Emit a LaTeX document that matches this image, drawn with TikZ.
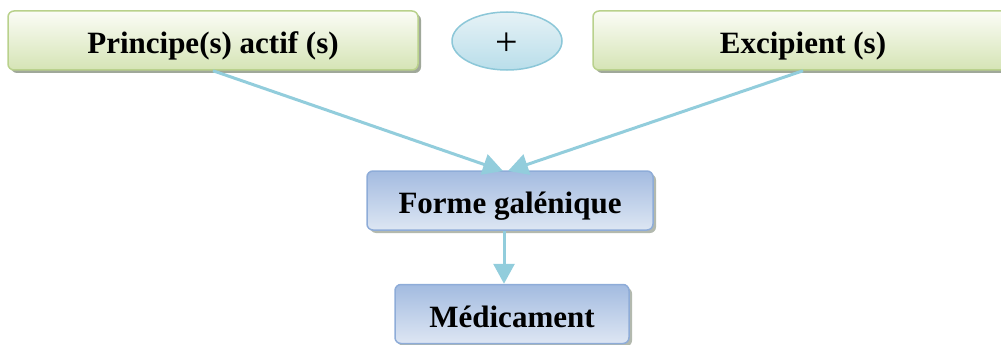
\documentclass[tikz,border=0pt]{standalone}
\usepackage{fontspec}
\setmainfont{Liberation Serif}
\usetikzlibrary{arrows.meta,shapes.geometric,shadows}
\definecolor{gtop}{HTML}{FBFCF6}
\definecolor{gbot}{HTML}{D5E4B5}
\definecolor{gbord}{HTML}{B9D18C}
\definecolor{btop}{HTML}{A3BBE0}
\definecolor{bbot}{HTML}{DDE6F3}
\definecolor{bbord}{HTML}{8EACD8}
\definecolor{etop}{HTML}{E6F2F6}
\definecolor{ebot}{HTML}{B9DEEA}
\definecolor{ebord}{HTML}{8CC7D8}
\definecolor{arr}{HTML}{92CDDC}
\definecolor{shad}{HTML}{A0A89A}
\tikzset{
  boxtext/.style={font=\fontsize{31}{36}\selectfont\bfseries, text height=33pt, text depth=7pt},
  greenbox/.style={draw=gbord, line width=1.5pt, rounded corners=6pt,
    top color=gtop, bottom color=gbot, minimum height=59pt, boxtext,
    drop shadow={shadow xshift=3pt, shadow yshift=-3pt, fill=shad, opacity=1}},
  bluebox/.style={draw=bbord, line width=1.5pt, rounded corners=6pt,
    top color=btop, bottom color=bbot, minimum height=59pt, boxtext,
    drop shadow={shadow xshift=3pt, shadow yshift=-3pt, fill=shad!80, opacity=1}},
  plusell/.style={ellipse, draw=ebord, line width=1.5pt, top color=etop, bottom color=ebot,
    minimum width=110pt, minimum height=58pt, inner sep=0pt,
    font=\fontsize{40}{44}\selectfont, text height=32pt, text depth=2pt},
  conn/.style={draw=arr, line width=3pt, -{Triangle[length=20pt,width=21pt]}}
}
\begin{document}
\begin{tikzpicture}[x=1pt,y=-1pt]
\useasboundingbox (0,0) rectangle (1001,345);
\node[greenbox, minimum width=410pt] (pa) at (213,40.5) {Principe(s) actif (s)};
\node[plusell] (plus) at (507,41) {+};
\node[greenbox, minimum width=420pt] (ex) at (803,40.5) {Excipient (s)};
\node[bluebox, minimum width=286pt] (fg) at (510,200.5) {Forme galénique};
\node[bluebox, minimum width=234pt] (med) at (512,314) {Médicament};
\coordinate (tip) at (505,171);
\draw[conn] (pa.south) -- ([xshift=-2pt]tip);
\draw[conn] (ex.south) -- ([xshift=3pt]tip);
\draw[conn] ([xshift=-6pt]fg.south) -- ([xshift=-8pt]med.north);
\end{tikzpicture}
\end{document}
